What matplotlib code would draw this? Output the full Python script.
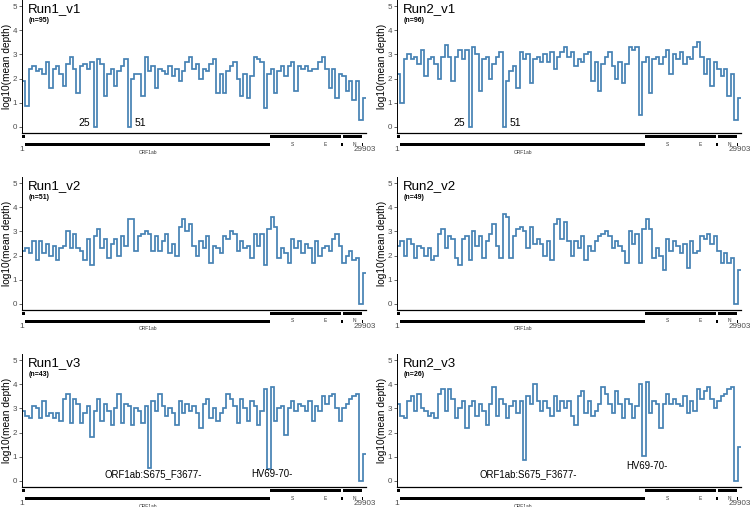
import numpy as np
import matplotlib
matplotlib.use("Agg")
import matplotlib.pyplot as plt

plt.rcParams['font.family'] = ['Liberation Sans', 'DejaVu Sans']

genome_len = 29903
titles = ["Run1_v1", "Run2_v1", "Run1_v2", "Run2_v2", "Run1_v3", "Run2_v3"]
n_samples = [95, 96, 51, 49, 43, 26]

# log10 mean depth in ~300 bp windows along the genome
run1_v1 = [1.9, 0.85, 2.4, 2.5, 2.3, 2.4, 2.2, 2.7, 1.6, 2.4,
           2.5, 2.2, 1.7, 2.6, 2.9, 2.4, 1.4, 2.5, 2.6, 2.4,
           2.7, 0.0, 2.8, 2.6, 1.3, 2.2, 2.4, 1.7, 2.3, 2.5,
           2.8, 0.0, 2.0, 2.2, 2.2, 1.3, 2.9, 2.3, 2.5, 1.6,
           2.4, 2.3, 2.2, 2.5, 2.1, 2.4, 1.9, 2.3, 2.7, 2.9,
           2.4, 2.6, 2.0, 2.4, 2.3, 2.6, 2.8, 1.4, 2.2, 1.4,
           2.3, 2.5, 2.7, 2.0, 1.3, 2.2, 1.2, 2.1, 2.9, 2.8,
           2.7, 0.8, 2.2, 2.4, 1.4, 2.3, 2.5, 2.1, 2.5, 2.7,
           1.5, 2.5, 2.4, 2.5, 2.3, 2.4, 2.4, 2.7, 2.9, 2.4,
           1.6, 2.4, 1.2, 2.2, 2.1, 1.5, 1.9, 1.1, 1.9, 0.3, 1.2]
run2_v1 = [2.2, 1.0, 2.8, 3.0, 2.8, 2.9, 2.6, 3.2, 2.1, 2.8,
           2.9, 2.6, 2.0, 2.9, 3.4, 2.9, 1.9, 2.9, 3.2, 2.8,
           3.2, 0.0, 3.3, 3.0, 1.5, 2.8, 2.9, 2.0, 2.6, 2.9,
           3.1, 0.0, 1.9, 2.3, 2.5, 1.6, 3.1, 2.8, 3.0, 1.8,
           2.8, 2.9, 2.7, 3.0, 2.7, 3.1, 2.4, 2.9, 3.1, 3.3,
           2.9, 3.1, 2.5, 2.8, 2.7, 3.0, 3.1, 1.9, 2.7, 1.5,
           2.6, 2.9, 3.1, 2.5, 2.0, 2.7, 1.8, 2.6, 3.3, 3.2,
           3.3, 0.5, 2.7, 2.9, 1.4, 2.8, 2.9, 2.6, 2.9, 3.2,
           2.2, 3.0, 2.8, 3.1, 2.6, 2.9, 2.8, 3.3, 3.5, 2.9,
           2.2, 2.8, 1.7, 2.7, 2.4, 2.1, 2.4, 1.3, 2.2, 0.3, 1.2]
run1_v2 = [2.2, 2.3, 2.1, 2.6, 1.8, 2.6, 2.1, 2.5, 2.0, 2.4,
           1.8, 2.3, 2.4, 3.0, 2.3, 2.9, 2.3, 2.2, 1.8, 2.7,
           1.6, 2.8, 3.1, 2.3, 2.7, 1.9, 2.5, 2.7, 2.0, 2.8,
           2.4, 3.5, 3.5, 2.2, 2.8, 2.9, 3.0, 2.9, 2.2, 2.8,
           2.2, 2.6, 2.9, 2.1, 2.5, 2.0, 3.2, 3.5, 3.0, 3.3,
           2.4, 2.0, 2.6, 2.3, 2.8, 1.7, 2.4, 2.3, 2.1, 2.8,
           2.7, 3.0, 2.9, 2.2, 2.6, 2.3, 2.4, 1.9, 2.9, 2.4,
           2.9, 1.6, 3.1, 3.6, 3.2, 1.9, 2.3, 2.1, 1.7, 2.7,
           2.3, 2.6, 2.1, 2.5, 2.3, 1.7, 2.6, 2.0, 2.3, 2.4,
           2.2, 2.7, 2.9, 2.4, 1.7, 2.0, 2.2, 1.8, 1.9, 0.0, 1.3]
run2_v2 = [2.4, 2.6, 2.0, 2.7, 2.5, 1.9, 2.4, 2.3, 2.0, 2.3,
           1.8, 2.0, 2.9, 3.1, 2.3, 2.8, 2.7, 1.9, 1.6, 2.7,
           2.8, 1.8, 3.0, 2.4, 2.8, 1.9, 2.6, 2.9, 3.3, 2.4,
           1.9, 3.7, 3.6, 1.9, 2.8, 3.1, 3.2, 3.0, 2.3, 3.2,
           2.5, 2.7, 2.5, 2.0, 2.6, 1.8, 3.3, 3.5, 2.7, 3.4,
           2.6, 2.0, 2.6, 2.3, 2.8, 1.8, 2.4, 2.2, 2.6, 2.8,
           2.9, 3.0, 2.8, 2.3, 2.6, 2.4, 2.2, 1.7, 3.0, 2.5,
           2.9, 1.7, 3.1, 3.5, 3.1, 1.9, 2.3, 2.0, 1.4, 2.7,
           2.2, 2.6, 2.4, 2.1, 2.5, 1.5, 2.6, 2.1, 2.2, 2.8,
           2.7, 2.9, 2.5, 2.8, 2.2, 1.7, 2.1, 1.7, 1.9, 0.0, 1.4]
run1_v3 = [2.9, 2.7, 2.6, 3.1, 3.0, 2.6, 3.3, 2.7, 2.8, 2.6,
           2.8, 2.5, 3.4, 3.6, 2.4, 3.4, 3.2, 2.4, 2.8, 3.1,
           1.8, 2.9, 3.4, 2.5, 3.2, 2.9, 2.3, 3.0, 3.6, 2.4,
           3.2, 3.1, 2.3, 3.0, 2.9, 2.4, 3.1, 0.55, 3.3, 2.9,
           3.6, 3.1, 2.7, 3.0, 2.8, 2.3, 3.3, 2.8, 3.2, 2.9,
           3.1, 2.8, 2.2, 3.2, 3.4, 2.6, 3.0, 2.5, 2.8, 3.0,
           3.6, 3.4, 3.1, 2.4, 3.4, 3.0, 2.5, 3.3, 3.1, 2.3,
           2.9, 3.8, 0.5, 3.9, 2.5, 3.0, 3.1, 1.9, 3.0, 3.3,
           2.9, 3.2, 3.1, 2.9, 3.3, 2.5, 3.1, 2.9, 3.5, 3.2,
           3.5, 3.6, 3.0, 2.5, 3.0, 3.2, 3.4, 3.5, 3.6, 0.0, 1.1]
run2_v3 = [3.2, 2.7, 2.6, 3.3, 3.5, 2.9, 3.6, 3.0, 2.9, 2.7,
           2.8, 2.6, 3.6, 3.8, 2.9, 3.8, 3.4, 2.6, 3.0, 3.3,
           2.2, 3.1, 3.3, 2.7, 3.2, 2.9, 2.3, 3.2, 3.9, 2.7,
           3.4, 3.2, 2.6, 3.1, 3.3, 2.8, 3.3, 0.85, 3.5, 3.2,
           4.0, 3.3, 2.9, 3.3, 3.0, 2.7, 3.5, 2.9, 3.3, 3.0,
           3.3, 2.7, 2.3, 3.5, 3.7, 2.8, 3.3, 2.7, 2.9, 3.2,
           3.9, 3.6, 3.2, 2.8, 3.7, 3.2, 2.6, 3.4, 3.2, 2.6,
           3.1, 4.0, 1.05, 4.1, 2.8, 3.3, 3.2, 2.2, 3.2, 3.6,
           3.2, 3.4, 3.2, 3.1, 3.5, 2.8, 3.3, 2.9, 3.8, 3.4,
           3.7, 3.9, 3.4, 3.0, 3.3, 3.5, 3.6, 3.8, 3.9, 0.0, 1.4]
depths = [run1_v1, run2_v1, run1_v2, run2_v2, run1_v3, run2_v3]

# labelled dropouts: window index, text
drop_v1 = [(21, "25"), (31, "51")]
drop_v3 = [(37, "ORF1ab:S675_F3677-"), (72, "HV69-70-")]
drop_label_y = {4: [0.28, 0.28], 5: [0.3, 0.63]}

# genome map
gene_names = ["5'UTR", "ORF1ab", "S", "ORF3a", "E", "M", "ORF6", "ORF7a",
              "ORF7b", "ORF8", "N", "ORF10"]
gene_start = [1, 266, 21563, 25393, 26245, 26523, 27202, 27394, 27756, 27894, 28274, 29558]
gene_end = [265, 21555, 25384, 26220, 26472, 27191, 27387, 27759, 27887, 28259, 29533, 29674]
gene_row = [1, 0, 1, 1, 1, 1, 1, 1, 0, 1, 1, 0]
gene_shown = ["ORF1ab", "S", "E", "N"]

line_col = "#4682B4"
W, H = 750, 507


def px_axes(fig, left, top, width, height):
    return fig.add_axes([left / W, 1 - (top + height) / H, width / W, height / H])


def draw_map(ax):
    row_y = {0: 11, 1: 3}
    for name, s, e, r in zip(gene_names, gene_start, gene_end, gene_row):
        ax.barh(row_y[r], e - s, left=s, height=3, color="black", linewidth=0)
        if name in gene_shown:
            ax.text((s + e) / 2, row_y[r] + 8, name, ha="center", va="center",
                    fontsize=3.5, color="#333333")
    ax.text(1, 16.5, "1", ha="center", va="center", fontsize=6, color="#4D4D4D")
    ax.text(genome_len - 120, 16.5, str(genome_len), ha="center", va="center",
            fontsize=5.8, color="#4D4D4D")
    ax.set_xlim(1, genome_len)
    ax.set_ylim(24, 0)
    ax.axis("off")


def draw_panel(fig, i, left, top):
    vals = depths[i]
    edges = np.linspace(1, genome_len, len(vals) + 1)
    mids = (edges[:-1] + edges[1:]) / 2
    ax = px_axes(fig, left, top, 344, 133)
    ax.stairs(vals, edges, baseline=None, color=line_col, linewidth=1.25)
    ax.set_xlim(1, genome_len)
    ax.set_ylim(-0.25, 5.25)
    ax.set_yticks(range(6))
    ax.set_xticks([])
    ax.tick_params(axis="y", length=2.2, width=0.6, labelsize=5.8, colors="#4D4D4D", pad=1.2)
    ax.set_ylabel("log10(mean depth)", fontsize=7.3, labelpad=0.8)
    for side in ["top", "right"]:
        ax.spines[side].set_visible(False)
    ax.spines["left"].set_linewidth(0.7)
    ax.spines["bottom"].set_linewidth(0.9)
    ax.text(0.017, 0.935, titles[i], transform=ax.transAxes, fontsize=9.5, va="center")
    ax.text(0.02, 0.845, "(n=%d)" % n_samples[i], transform=ax.transAxes,
            fontsize=5, fontweight="bold", va="center")

    if i < 2:
        k, txt = drop_v1[0]
        ax.text(mids[k] - 450, 0.17, txt, ha="right", va="center", fontsize=7.5)
        k, txt = drop_v1[1]
        ax.text(mids[k] + 450, 0.17, txt, ha="left", va="center", fontsize=7.5)
    if i >= 4:
        for (k, txt), ly in zip(drop_v3, drop_label_y[i]):
            ax.text(mids[k] + 300, ly, txt, ha="center", va="center", fontsize=6.9)

    m = px_axes(fig, left, top + 133, 344, 24)
    draw_map(m)


def main():
    fig = plt.figure(figsize=(W / 100, H / 100), dpi=100)
    lefts = [22, 397]
    tops = [0, 177, 354]
    for i in range(6):
        draw_panel(fig, i, lefts[i % 2], tops[i // 2])
    fig.savefig("out.png", dpi=100)


if __name__ == "__main__":
    main()
